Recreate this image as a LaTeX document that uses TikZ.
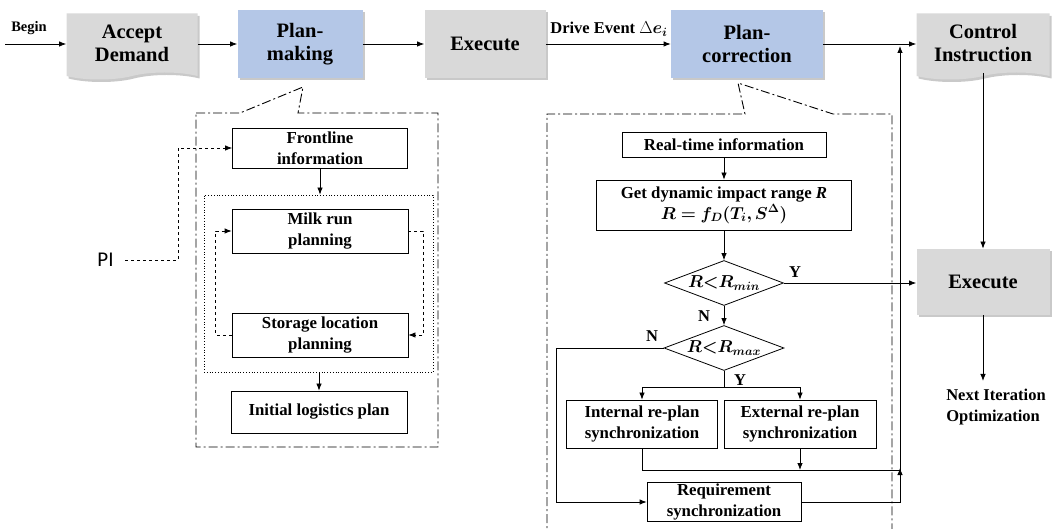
\documentclass[tikz,border=0pt]{standalone}
\usepackage{amsmath}
\usepackage{bm}
\usepackage{fontspec}
\setmainfont{Liberation Serif}
\newfontfamily\pifont{Carlito}
\usetikzlibrary{shapes.geometric,shapes.symbols,shadows,arrows.meta}

\definecolor{boxgray}{HTML}{D9D9D9}
\definecolor{boxblue}{HTML}{B4C7E7}

\tikzset{
  >={Latex[length=7pt,width=5.5pt]},
  softshadow/.style={drop shadow={shadow xshift=2pt, shadow yshift=-2.5pt, fill=black!70, opacity=0.3}},
  stage/.style={fill=boxgray, softshadow, align=center, inner sep=0pt,
    font=\fontsize{20.5}{23}\selectfont\bfseries},
  plan/.style={stage, fill=boxblue},
  docbox/.style={stage, shape=tape, tape bend top=none, tape bend height=7pt},
  sub/.style={draw, align=center, inner sep=0pt,
    font=\fontsize{16.8}{21}\selectfont\bfseries},
  decision/.style={sub, shape=diamond, shape aspect=2.6},
  note/.style={inner sep=1pt, font=\fontsize{16.5}{21}\selectfont\bfseries},
  callout/.style={dash pattern=on 9pt off 3pt on 2pt off 3pt, line width=0.9pt}
}

\begin{document}
\begin{tikzpicture}[x=1pt, y=-1pt, line width=0.8pt]
\useasboundingbox (0,0) rectangle (1053,529);

% main row
\node (accept) [docbox, minimum width=131, minimum height=66] at (132,43) {Accept\\Demand};
\node (making) [plan, minimum width=125, minimum height=68] at (300,44) {Plan-\\making};
\node (exec) [stage, minimum width=121, minimum height=68] at (485,44) {Execute};
\node (correct) [plan, minimum width=152, minimum height=68] at (747,44) {Plan-\\correction};
\node (control) [docbox, minimum width=133, minimum height=66] at (983,43) {Control\\Instruction};
\node (exectwo) [stage, minimum width=133, minimum height=66] at (983,282) {Execute};

\coordinate (start) at (5,44);
\node (begin) [note, font=\fontsize{14.5}{16}\selectfont\bfseries] at (29,28) {Begin};
\node (drive) [note] at (609,29) {Drive Event $\Delta\bm{e_i}$};
\draw [->] (start) -- (start -| accept.west);
\draw [->] (accept.east |- making.west) -- (making.west);
\draw [->] (making) -- (exec);
\draw [->] (exec.east) -- (correct.west);
\draw [->] (correct.east) -- (correct.east -| control.west);
\draw [->] (control.south) -- (exectwo.north);

\coordinate (next) at (983,381);
\draw [->] (exectwo.south) -- (next);
\node (nextiter) [note, align=left] at (996,407) {Next Iteration\\Optimization};

% plan-making detail
\path [callout, draw] (196,113) -- (240,113) -- (303,87) -- (298,113) -- (438,113)
  -- (438,447) -- (196,447) -- cycle;

\node (front) [sub, minimum width=175, minimum height=40] at (320,148) {Frontline\\information};
\node (group) [draw, dotted, minimum width=229, minimum height=177] at (318.5,283.5) {};
\node (milk) [sub, minimum width=176, minimum height=44] at (320,231) {Milk run\\planning};
\node (store) [sub, minimum width=176, minimum height=44] at (320,335) {Storage location\\planning};
\node (initial) [sub, minimum width=176, minimum height=42] at (319,412) {Initial logistics plan};

\draw [->] (front.south) -- (front.south |- group.north);
\draw [->] (group.south -| initial.north) -- (initial.north);
\draw [dashed, ->] (store.west) -- ++(-16,0) |- (milk.west);
\draw [dashed, ->] (milk.east) -- ++(15,0) |- (store.east);

\node (pi) [font=\fontsize{21}{23}\selectfont\pifont, inner sep=0pt, anchor=east] at (114,260) {PI};
\draw [dashed, ->] ([xshift=11pt]pi.east) -- ++(53,0) |- (front.west);

% plan-correction detail
\path [callout, draw] (547,540) -- (547,114) -- (745,114) -- (738,83) -- (833,114)
  -- (892,114) -- (892,540);

\node (realtime) [sub, minimum width=204, minimum height=25] at (724,145) {Real-time information};
\node (range) [sub, minimum width=255, minimum height=50] at (724,205)
  {Get dynamic impact range \textit{R}\\$\bm{R = f_D(T_i,S^{\Delta})}$};
\node (small) [decision, minimum width=119, minimum height=45] at (724,283)
  {$\bm{R{<}R_{min}}$};
\node (large) [decision, minimum width=120, minimum height=45] at (724,348)
  {$\bm{R{<}R_{max}}$};
\node (internal) [sub, minimum width=151, minimum height=48] at (642,424) {Internal re-plan\\synchronization};
\node (external) [sub, minimum width=152, minimum height=48] at (800,424) {External re-plan\\synchronization};
\node (require) [sub, minimum width=154, minimum height=39] at (724,502) {Requirement\\synchronization};

\draw [->] (realtime) -- (range);
\draw [->] (range) -- (small);
\draw [->] (small) -- (large);
\draw [->] (small.east) -- (small.east -| exectwo.west);
\node (yessmall) [note] at (795,272) {Y};
\node (nosmall) [note] at (704,316) {N};
\node (nolarge) [note] at (652,336) {N};
\node (yeslarge) [note] at (740,380) {Y};

\coordinate (split) at (724,387);
\draw (large.south) -- (split);
\draw [->] (split) -| (internal.north);
\draw [->] (split) -| (external.north);
\draw [->] (large.west) -- ++(-107,0) |- (require.west);

\coordinate (join) at (900,470);
\coordinate (top) at (900,46);
\draw [->] (internal.south) |- (join) -- (top);
\draw [->] (external.south) -- (external.south |- join);
\draw [->] (require.east) -| ([yshift=2pt]join);

\end{tikzpicture}
\end{document}
